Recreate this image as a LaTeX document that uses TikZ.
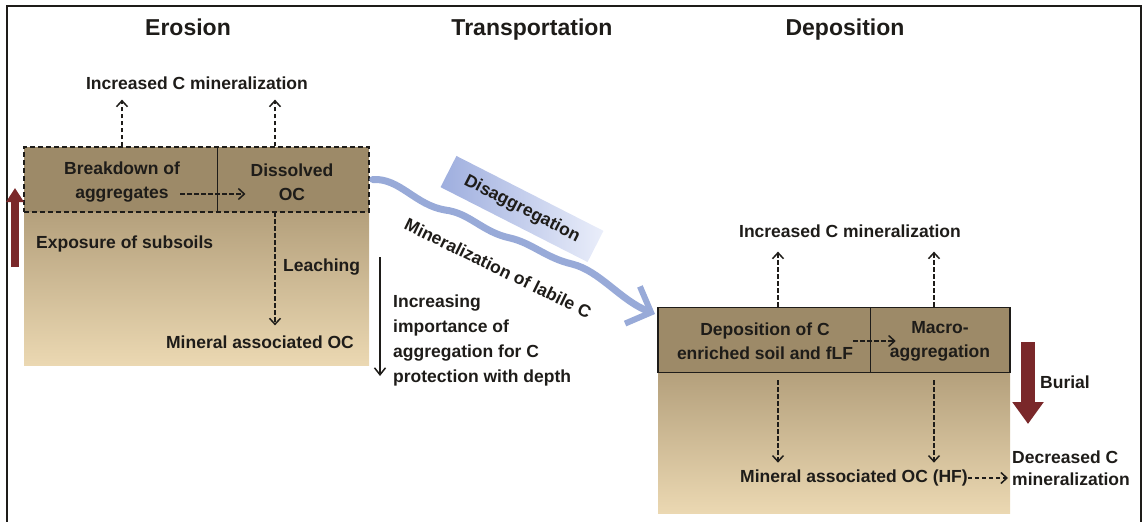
\documentclass[tikz,border=0pt]{standalone}
\usepackage{fontspec}
\setmainfont{Liberation Sans}
\usetikzlibrary{arrows.meta,calc}
\definecolor{bandbrown}{RGB}{157,138,104}
\definecolor{soiltop}{RGB}{180,160,124}
\definecolor{soilbottom}{RGB}{235,216,178}
\definecolor{burialred}{RGB}{122,40,42}
\definecolor{flowblue}{RGB}{152,170,216}
\definecolor{disagleft}{RGB}{158,174,222}
\definecolor{disagright}{RGB}{234,238,250}
\definecolor{inkdark}{RGB}{30,28,25}

\begin{document}
\begin{tikzpicture}[x=1pt,y=-1pt,
    lbl/.style={font=\bfseries\fontsize{17.5}{24}\selectfont,text=inkdark,inner sep=0pt,align=center},
    ttl/.style={font=\bfseries\fontsize{23}{27}\selectfont,text=inkdark,inner sep=0pt},
    dasharr/.style={draw=inkdark,line width=1.5pt,dash pattern=on 4.5pt off 2.5pt,-{Straight Barb[length=6pt,width=11pt]}},
    band/.style={fill=bandbrown,draw=inkdark,line width=1.5pt,minimum height=65pt,inner sep=0pt},
    burialarr/.style={draw=burialred,-{Triangle[length=22pt,width=30pt]}}]
  \useasboundingbox (0,0) rectangle (1144,522);
  \draw[line width=2.5pt,inkdark] (7,530)--(7,6)--(1141,6)--(1141,530);

  \node[ttl] (erosion) at (188,27) {Erosion};
  \node[ttl] (transport) at (532,30) {Transportation};
  \node[ttl] (deposition) at (845,30) {Deposition};

  % erosion side
  \shade[top color=soiltop,bottom color=soilbottom] (24,212) rectangle (369,365);
  \node[band,dash pattern=on 5pt off 3pt,minimum width=345pt] (eband) at (196.5,179.5) {};
  \draw[line width=1.5pt,inkdark] (eband.north west) ++(194,0) -- ++(0,65);
  \node[lbl] (incE) at (197,83) {Increased C mineralization};
  \node[lbl] (breakdown) at (122,182) {Breakdown of\\aggregates};
  \node[lbl] (dissolved) at (292,182) {Dissolved\\OC};
  \node[lbl,anchor=west] (exposure) at (36,244) {Exposure of subsoils};
  \node[lbl,anchor=west] (leaching) at (283,267) {Leaching};
  \node[lbl] (mineralE) at (260,342) {Mineral associated OC};
  \coordinate (ocx) at (275,212);
  \draw[dasharr,shorten >=10pt] (eband.north -| breakdown) -- (incE.south -| breakdown);
  \draw[dasharr,shorten >=10pt] (ocx |- eband.north) -- (ocx |- incE.south);
  \draw[dasharr,shorten >=5pt] ([yshift=-12pt]breakdown.east) -- ([yshift=-12pt]dissolved.west);
  \draw[dasharr,shorten >=10pt] (ocx) -- (ocx |- mineralE.north);
  \coordinate (upbot) at (15,267);
  \coordinate (uptop) at (15,188);
  \draw[burialarr,line width=8pt,-{Triangle[length=14pt,width=17pt]}] (upbot) -- (uptop);

  % depth
  \coordinate (depthtop) at (380,257);
  \coordinate (depthbot) at (380,376);
  \draw[inkdark,line width=1.5pt,-{Straight Barb[length=7pt,width=11pt]}] (depthtop) -- (depthbot);
  \node[lbl,align=left,anchor=west,font=\bfseries\fontsize{17.5}{25}\selectfont] (depthtxt) at (393,340)
    {Increasing\\importance of\\aggregation for C\\protection with depth};

  % transport
  \node[lbl,rotate=-27,left color=disagleft,right color=disagright,minimum width=165pt,minimum height=35pt] (disagg) at (522,209) {Disaggregation};
  \coordinate (waveend) at (655,314);
  \draw[flowblue,line width=7pt,line cap=round,-{Straight Barb[length=20pt,width=40pt,line width=6pt]}]
    ([xshift=3pt]eband.east) .. controls (400,178) and (415,205) .. (445,210)
    .. controls (470,213) and (482,232) .. (510,238)
    .. controls (532,243) and (546,258) .. (572,264)
    .. controls (600,271) and (620,300) .. (waveend);
  \node[lbl,rotate=-26] (minlabile) at (498,268) {Mineralization of labile C};

  % deposition side
  \shade[top color=soiltop,bottom color=soilbottom] (658,373) rectangle (1010,513);
  \node[band,minimum width=352pt] (dband) at (834,340) {};
  \draw[line width=1.5pt,inkdark] (dband.north west) ++(213,0) -- ++(0,66);
  \node[lbl] (incD) at (850,231) {Increased C mineralization};
  \node[lbl] (depos) at (765,341) {Deposition of C\\enriched soil and fLF};
  \node[lbl] (macro) at (940,341) {Macro-\\aggregation};
  \node[lbl] (mineralD) at (854,478) {Mineral associated OC (HF)};
  \node[lbl,align=left,anchor=west,font=\bfseries\fontsize{17.5}{22}\selectfont] (decreased) at (1012,468) {Decreased C\\mineralization};
  \node[lbl,anchor=west] (burial) at (1040,382) {Burial};
  \coordinate (colA) at (778,373);
  \coordinate (colB) at (934,373);
  \draw[dasharr,shorten >=14pt] (colA |- dband.north) -- (colA |- incD.south);
  \draw[dasharr,shorten >=14pt] (colB |- dband.north) -- (colB |- incD.south);
  \draw[dasharr,shorten <=7pt,shorten >=7pt] (colA) -- (colA |- mineralD.north);
  \draw[dasharr,shorten <=7pt,shorten >=7pt] (colB) -- (colB |- mineralD.north);
  \draw[dasharr] (depos.east) -- ([xshift=6pt]macro.west);
  \draw[dasharr,shorten >=4pt] (mineralD.east) -- (decreased.west |- mineralD.east);
  \coordinate (burialtop) at (1028,342);
  \coordinate (burialbot) at (1028,424);
  \draw[burialarr,line width=14pt] (burialtop) -- (burialbot);
\end{tikzpicture}
\end{document}
